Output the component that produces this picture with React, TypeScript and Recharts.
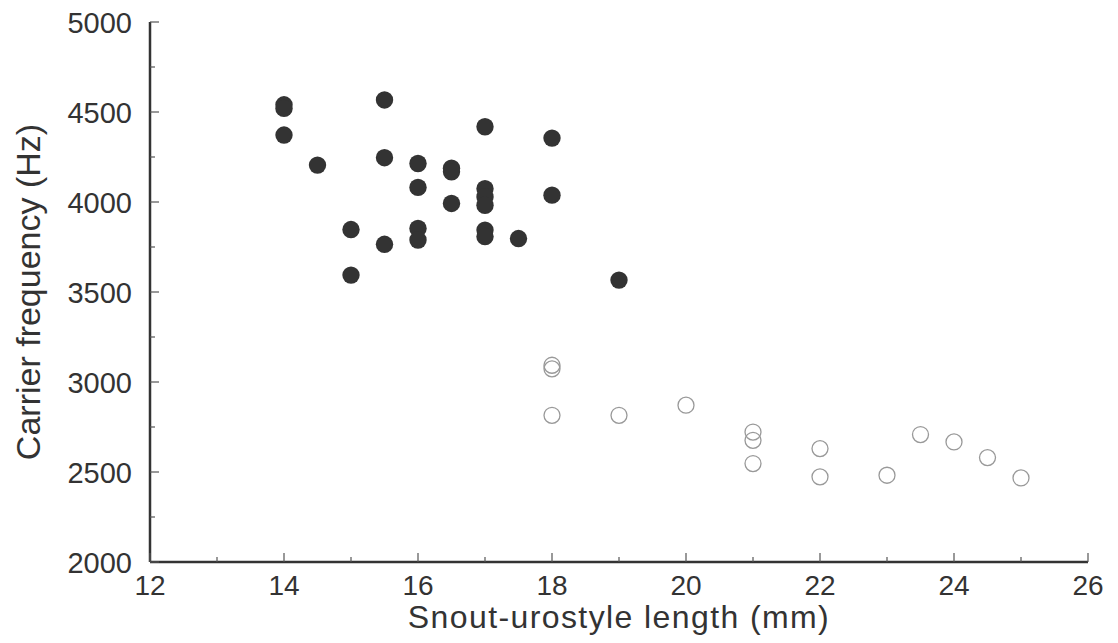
import { ScatterChart, Scatter, XAxis, YAxis, Label } from 'recharts';

// snout-urostyle length (mm) vs carrier frequency (Hz), two groups
const filledLength = [14, 14, 14, 14.5, 15, 15, 15.5, 15.5, 15.5, 16, 16, 16, 16, 16.5, 16.5, 16.5, 17, 17, 17, 17, 17, 17, 17.5, 18, 18, 19];
const filledFreq = [4540, 4520, 4372, 4205, 3847, 3594, 4567, 4246, 3765, 4214, 4081, 3853, 3789, 4188, 4168, 3992, 4418, 4074, 4028, 3982, 3844, 3808, 3797, 4355, 4038, 3566];

const openLength = [18, 18, 18, 19, 20, 21, 21, 21, 22, 22, 23, 23.5, 24, 24.5, 25];
const openFreq = [3093, 3073, 2815, 2815, 2871, 2722, 2676, 2547, 2630, 2473, 2482, 2708, 2667, 2580, 2467];

const xTicks = [12, 13, 14, 15, 16, 17, 18, 19, 20, 21, 22, 23, 24, 25, 26];
const xLabelTicks = [12, 14, 16, 18, 20, 22, 24, 26];
const yTicks = [2000, 2250, 2500, 2750, 3000, 3250, 3500, 3750, 4000, 4250, 4500, 4750, 5000];
const yLabelTicks = [2000, 2500, 3000, 3500, 4000, 4500, 5000];

const filledData = filledLength.map((x, i) => ({ x, y: filledFreq[i] }));
const openData = openLength.map((x, i) => ({ x, y: openFreq[i] }));

const FONT = '"Liberation Sans", Arial, Helvetica, sans-serif';
const INK = '#333';

const XTick = (props: any) => {
  const { x, y, payload } = props;
  const major = xLabelTicks.includes(payload.value);
  return (
    <g>
      <line x1={x} x2={x} y1={y} y2={y - (major ? 9 : 5)} stroke="#555" strokeWidth={1.2} />
      {major && (
        <text x={x} y={y + 33} textAnchor="middle" fontSize={28} fontFamily={FONT} fill={INK}>
          {payload.value}
        </text>
      )}
    </g>
  );
};

const YTick = (props: any) => {
  const { x, y, payload } = props;
  const major = yLabelTicks.includes(payload.value);
  return (
    <g>
      <line x1={x} x2={x + (major ? 9 : 5)} y1={y} y2={y} stroke="#555" strokeWidth={1.2} />
      {major && (
        <text x={x - 18} y={y + 11} textAnchor="end" fontSize={29} fontFamily={FONT} fill={INK}>
          {payload.value}
        </text>
      )}
    </g>
  );
};

export default function App() {
  return (
    <ScatterChart width={1110} height={635} margin={{ top: 14, right: 30, bottom: 0, left: 0 }}>
      <XAxis
        type="number" dataKey="x" domain={[12, 26]} ticks={xTicks} interval={0}
        tick={<XTick />} tickLine={false} tickSize={0} tickMargin={0} height={81}
        axisLine={{ stroke: INK, strokeWidth: 2.5 }}
      >
        <Label
          content={({ viewBox }: any) => (
            <text x={viewBox.x + viewBox.width / 2} y={viewBox.y + 66} textAnchor="middle" fontSize={32} letterSpacing={1.4} fontFamily={FONT} fill={INK}>
              Snout-urostyle length (mm)
            </text>
          )}
        />
      </XAxis>
      <YAxis
        type="number" dataKey="y" domain={[2000, 5000]} ticks={yTicks} interval={0}
        tick={<YTick />} tickLine={false} tickSize={0} tickMargin={0} width={142}
        axisLine={{ stroke: INK, strokeWidth: 2.5 }}
      >
        <Label
          content={({ viewBox }: any) => {
            const cx = 32;
            const cy = viewBox.y + viewBox.height / 2;
            return (
              <text x={cx} y={cy} transform={`rotate(-90, ${cx}, ${cy})`} textAnchor="middle" fontSize={34} fontFamily={FONT} fill={INK}>
                Carrier frequency (Hz)
              </text>
            );
          }}
        />
      </YAxis>
      <Scatter
        data={openData} isAnimationActive={false}
        shape={(p: any) => <circle cx={p.cx} cy={p.cy} r={8} fill="none" stroke="#999" strokeWidth={1.3} />}
      />
      <Scatter
        data={filledData} isAnimationActive={false}
        shape={(p: any) => <circle cx={p.cx} cy={p.cy} r={8.7} fill="#333" />}
      />
    </ScatterChart>
  );
}
